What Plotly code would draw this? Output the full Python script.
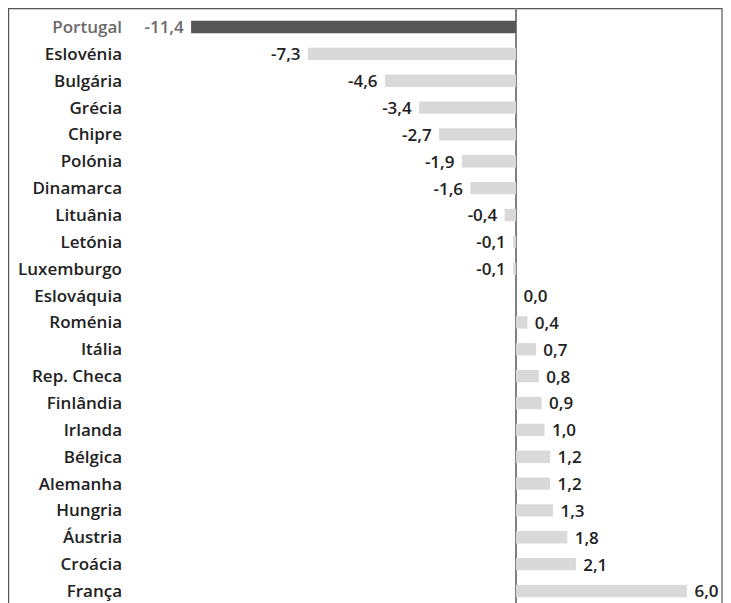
import plotly.graph_objects as go

countries = ["Portugal", "Eslovénia", "Bulgária", "Grécia", "Chipre", "Polónia", "Dinamarca",
             "Lituânia", "Letónia", "Luxemburgo", "Eslováquia", "Roménia", "Itália", "Rep. Checa",
             "Finlândia", "Irlanda", "Bélgica", "Alemanha", "Hungria", "Áustria", "Croácia", "França"]
values = [-11.4, -7.3, -4.6, -3.4, -2.7, -1.9, -1.6, -0.4, -0.1, -0.1, 0.0, 0.4, 0.7, 0.8,
          0.9, 1.0, 1.2, 1.2, 1.3, 1.8, 2.1, 6.0]
highlight = "Portugal"

NB = "\u00a0"
labels = [(f"{v:.1f}".replace(".", ",") + NB) if v < 0 else (NB + f"{v:.1f}".replace(".", ","))
          for v in values]
colors = ["#575757" if c == highlight else "#d9d9d9" for c in countries]
text_colors = ["#6a6a6a" if c == highlight else "#222222" for c in countries]
tick_text = [f'<span style="color:#6a6a6a">{c}</span>' if c == highlight else c for c in countries]

W, H = 715, 595
L, R = 122, 2
pw = W - L - R

fig = go.Figure()
fig.add_trace(go.Bar(
    x=values, y=countries, orientation="h",
    marker=dict(color=colors, line=dict(width=0)),
    width=0.46,
    text=labels, textposition="outside", constraintext="none",
    textfont=dict(family="Open Sans", size=17, color=text_colors, weight=600),
    cliponaxis=False,
))

fig.update_layout(
    width=W, height=H,
    margin=dict(l=L, r=R, t=0, b=0, autoexpand=False),
    paper_bgcolor="white", plot_bgcolor="white",
    showlegend=False,
    xaxis=dict(range=[-13.544, 7.193], showgrid=False, zeroline=True, zerolinecolor="#808080",
               zerolinewidth=1.5, showticklabels=False, ticks="", automargin=False),
    yaxis=dict(range=[21.447, -0.707], showgrid=False, zeroline=False, ticks="",
               ticklabelstandoff=7, automargin=False,
               tickmode="array", tickvals=countries, ticktext=tick_text,
               tickfont=dict(family="Open Sans", size=17, color="#222222", weight=600)),
    shapes=[dict(type="rect", xref="paper", yref="paper",
                 x0=(0.6 - L) / pw, x1=(W - 1.0 - L) / pw, y0=-0.2, y1=(H - 0.6) / H,
                 line=dict(color="#555555", width=1.2), fillcolor="rgba(0,0,0,0)", layer="below")],
)

fig.write_html("out.html")
